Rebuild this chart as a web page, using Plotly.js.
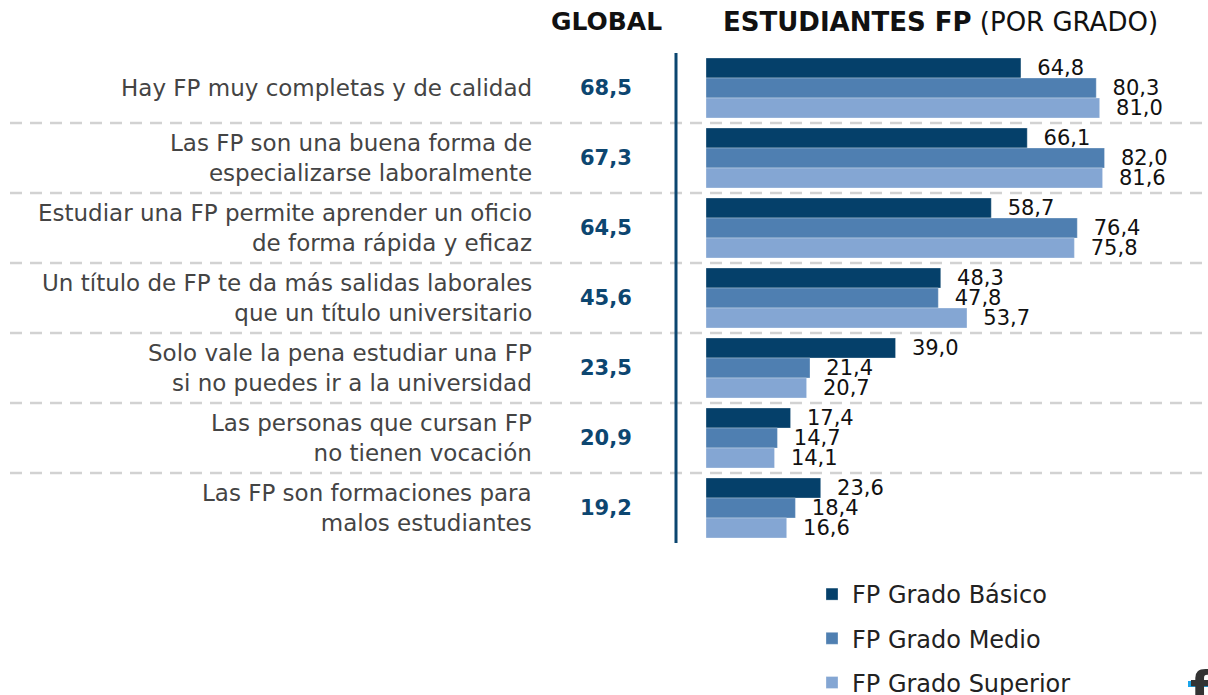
<!DOCTYPE html>
<html><head><meta charset="utf-8">
<script src="https://cdn.plot.ly/plotly-3.0.1.min.js"></script>
<style>html,body{margin:0;padding:0;background:#fff;}#chart{width:1208px;height:695px;}</style>
</head><body><div id="chart"></div>
<script>
// ---- data ----
const categories = [
  "Hay FP muy completas y de calidad",
  "Las FP son una buena forma de<br>especializarse laboralmente",
  "Estudiar una FP permite aprender un oficio<br>de forma rápida y eficaz",
  "Un título de FP te da más salidas laborales<br>que un título universitario",
  "Solo vale la pena estudiar una FP<br>si no puedes ir a la universidad",
  "Las personas que cursan FP<br>no tienen vocación",
  "Las FP son formaciones para<br>malos estudiantes"
];
const globalValues = [68.5, 67.3, 64.5, 45.6, 23.5, 20.9, 19.2];
const basico   = [64.8, 66.1, 58.7, 48.3, 39.0, 17.4, 23.6];
const medio    = [80.3, 82.0, 76.4, 47.8, 21.4, 14.7, 18.4];
const superior = [81.0, 81.6, 75.8, 53.7, 20.7, 14.1, 16.6];
const seriesNames = ["FP Grado Básico", "FP Grado Medio", "FP Grado Superior"];
const seriesColors = ["#05406a", "#4f7fb1", "#84a6d3"];

const FONT = "DejaVu Sans, Open Sans, sans-serif";
const L = 706, R = 16, T = 53, B = 152, W = 1208, H = 695;
const PW = W - L - R, PH = H - T - B;
const px2x = p => (p - L) / PW;
const py2y = p => (H - B - p) / PH;

const idx = categories.map((c, i) => i);
const traces = [basico, medio, superior].map((vals, k) => ({
  type: "bar", orientation: "h",
  name: seriesNames[k], legendgroup: "g" + k,
  y: idx, x: vals,
  marker: {color: seriesColors[k], line: {color: "rgba(255,255,255,0.6)", width: 0.5}},
  texttemplate: "\u00a0\u00a0%{x:.1f}",
  textposition: "outside",
  textfont: {family: FONT, size: 21, color: "#111"},
  constraintext: "none",
  cliponaxis: false,
  hoverinfo: "skip"
}));

const shapes = [];
for (let k = 1; k < categories.length; k++) {
  const yy = 1 - k / categories.length;
  shapes.push({type: "line", xref: "paper", yref: "paper",
    x0: px2x(10), x1: px2x(1208), y0: yy, y1: yy,
    line: {color: "#d2d2d2", width: 2.5, dash: "12px,8px"}, layer: "below"});
}
shapes.push({type: "line", xref: "paper", yref: "paper",
  x0: px2x(676), x1: px2x(676), y0: 0, y1: 1,
  line: {color: "#0b4670", width: 3}});

const annotations = [];
categories.forEach((c, i) => {
  annotations.push({xref: "paper", yref: "y", x: px2x(534), y: i,
    xanchor: "right", yanchor: "middle", align: "right", showarrow: false,
    text: c, font: {family: FONT, size: 23, color: "#444"}});
  annotations.push({xref: "paper", yref: "y", x: px2x(606), y: i,
    xanchor: "center", yanchor: "middle", showarrow: false,
    text: "<b>" + globalValues[i].toFixed(1).replace(".", ",") + "</b>",
    font: {family: FONT, size: 21, color: "#0d4670"}});
});
annotations.push({xref: "paper", yref: "paper", x: px2x(606), y: py2y(22),
  xanchor: "center", yanchor: "middle", showarrow: false,
  text: "<b>GLOBAL</b>", font: {family: FONT, size: 25, color: "#111"}});
annotations.push({xref: "paper", yref: "paper", x: px2x(940), y: py2y(22),
  xanchor: "center", yanchor: "middle", showarrow: false,
  text: "<b>ESTUDIANTES FP</b> (POR GRADO)", font: {family: FONT, size: 26, color: "#111"}});
annotations.push({xref: "paper", yref: "paper", x: px2x(1201), y: py2y(690),
  xanchor: "center", yanchor: "middle", showarrow: false,
  text: "<b>f</b>", font: {family: FONT, size: 50, color: "#333"}});

// logo accent (drawn after the letter)
shapes.push({type: "rect", xref: "paper", yref: "paper",
  x0: px2x(1188), x1: px2x(1208), y0: py2y(687), y1: py2y(681),
  fillcolor: "#1aa6ec", line: {width: 0}, layer: "above"});

const layout = {
  width: W, height: H,
  margin: {l: L, r: R, t: T, b: B, pad: 0, autoexpand: false},
  paper_bgcolor: "#fff", plot_bgcolor: "rgba(0,0,0,0)",
  separators: ",.",
  barmode: "group", bargap: 0.143, bargroupgap: 0,
  xaxis: {range: [0, 100], visible: false, fixedrange: true},
  yaxis: {range: [categories.length - 0.5, -0.5], visible: false, fixedrange: true},
  showlegend: true,
  legend: {orientation: "v", x: px2x(812), xanchor: "left", y: py2y(572), yanchor: "top",
    font: {family: FONT, size: 24, color: "#222"}, tracegroupgap: 10,
    bgcolor: "rgba(0,0,0,0)", traceorder: "grouped"},
  shapes: shapes, annotations: annotations,
  font: {family: FONT}
};
Plotly.newPlot("chart", traces, layout, {staticPlot: true, displayModeBar: false});
</script></body></html>
